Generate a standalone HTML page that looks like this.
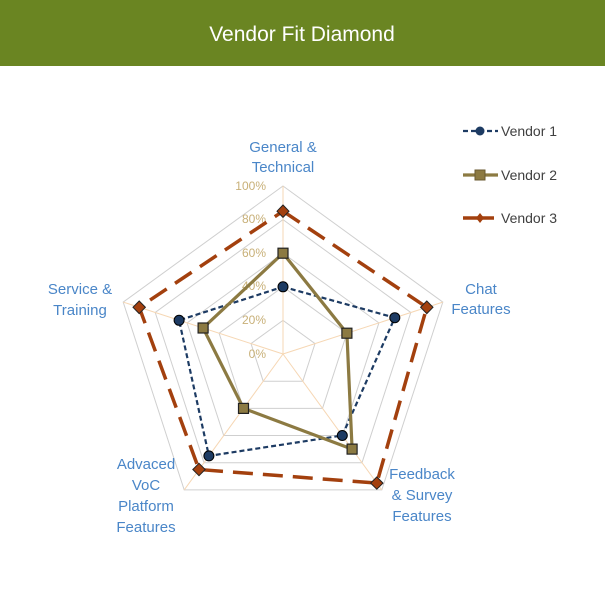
<!DOCTYPE html>
<html><head><style>
body{margin:0;width:605px;height:605px;background:#fff;overflow:hidden;font-family:"Liberation Sans",sans-serif;}
</style></head><body>
<svg width="605" height="605" viewBox="0 0 605 605" xmlns="http://www.w3.org/2000/svg" font-family="Liberation Sans, sans-serif">
<rect x="0" y="0" width="605" height="66" fill="#6a8522"/>
<text x="302" y="41" fill="#fff" font-size="21" text-anchor="middle">Vendor Fit Diamond</text>
<g fill="none" stroke="#cfcfcf" stroke-width="1">
<polygon points="283,186 442.8,302.1 381.8,489.9 184.2,489.9 123.2,302.1"/>
<polygon points="283,219.6 410.8,312.5 362,462.7 204,462.7 155.2,312.5"/>
<polygon points="283,253.2 378.9,322.9 342.3,435.5 223.7,435.5 187.1,322.9"/>
<polygon points="283,286.8 346.9,333.2 322.5,408.4 243.5,408.4 219.1,333.2"/>
<polygon points="283,320.4 315,343.6 302.8,381.2 263.2,381.2 251,343.6"/>
</g>
<g stroke="#f6d7b4" stroke-width="1">
<line x1="283" y1="354" x2="283" y2="186"/><line x1="283" y1="354" x2="442.8" y2="302.1"/>
<line x1="283" y1="354" x2="381.8" y2="489.9"/><line x1="283" y1="354" x2="184.2" y2="489.9"/>
<line x1="283" y1="354" x2="123.2" y2="302.1"/>
</g>
<g fill="#c8b078" font-size="12" text-anchor="end">
<text x="266" y="190">100%</text><text x="266" y="223">80%</text><text x="266" y="257">60%</text>
<text x="266" y="290">40%</text><text x="266" y="324">20%</text><text x="266" y="358">0%</text>
</g>
<g fill="#4a86c8" font-size="15" text-anchor="middle">
<text x="283" y="152">General &amp;</text><text x="283" y="172">Technical</text>
<text x="481" y="294">Chat</text><text x="481" y="314">Features</text>
<text x="422" y="479">Feedback</text><text x="422" y="500">&amp; Survey</text><text x="422" y="521">Features</text>
<text x="146" y="469">Advaced</text><text x="146" y="490">VoC</text><text x="146" y="511">Platform</text><text x="146" y="532">Features</text>
<text x="80" y="294">Service &amp;</text><text x="80" y="315">Training</text>
</g>
<polygon points="283,211.2 426.8,307.3 376.8,483.1 199,469.5 139.2,307.3" fill="none" stroke="#a3400e" stroke-width="3.5" stroke-dasharray="20,10"/>
<polygon points="283,286.8 394.8,317.7 342.3,435.5 208.9,455.9 179.1,320.3" fill="none" stroke="#1d3b63" stroke-width="2.2" stroke-dasharray="5,3"/>
<polygon points="283,253.2 346.9,333.2 352.1,449.1 243.5,408.4 203.1,328" fill="none" stroke="#8c7a42" stroke-width="3.2"/>
<g fill="#1d3b63" stroke="#000" stroke-width="1">
<circle cx="283" cy="286.8" r="5"/><circle cx="394.8" cy="317.7" r="5"/><circle cx="342.3" cy="435.5" r="5"/><circle cx="208.9" cy="455.9" r="5"/><circle cx="179.1" cy="320.3" r="5"/>
</g>
<g fill="#8c7a42" stroke="#222" stroke-width="1.2">
<rect x="278" y="248.2" width="10" height="10"/><rect x="341.9" y="328.2" width="10" height="10"/><rect x="347.1" y="444.1" width="10" height="10"/><rect x="238.5" y="403.4" width="10" height="10"/><rect x="198.1" y="323" width="10" height="10"/>
</g>
<g fill="#a3400e" stroke="#222" stroke-width="1">
<polygon points="283,205 289,211.2 283,217.4 277,211.2"/>
<polygon points="426.8,301 433,307.3 426.8,313.6 420.6,307.3"/>
<polygon points="376.8,477 383,483.1 376.8,489.2 370.6,483.1"/>
<polygon points="199,463.3 205.2,469.5 199,475.7 192.8,469.5"/>
<polygon points="139.2,301 145.4,307.3 139.2,313.6 133,307.3"/>
</g>
<line x1="463" y1="131" x2="498" y2="131" stroke="#1d3b63" stroke-width="2.2" stroke-dasharray="5,3"/>
<circle cx="480" cy="131" r="4.5" fill="#1d3b63"/>
<text x="501" y="136" font-size="14" fill="#404040">Vendor 1</text>
<line x1="463" y1="175" x2="498" y2="175" stroke="#8c7a42" stroke-width="3.2"/>
<rect x="475" y="170" width="10" height="10" fill="#8c7a42" stroke="#6a5a30"/>
<text x="501" y="180" font-size="14" fill="#404040">Vendor 2</text>
<line x1="463" y1="218" x2="494" y2="218" stroke="#a3400e" stroke-width="3.5"/>
<polygon points="480,213 484,218 480,223 476,218" fill="#a3400e"/>
<text x="501" y="223" font-size="14" fill="#404040">Vendor 3</text>
</svg>
</body></html>
